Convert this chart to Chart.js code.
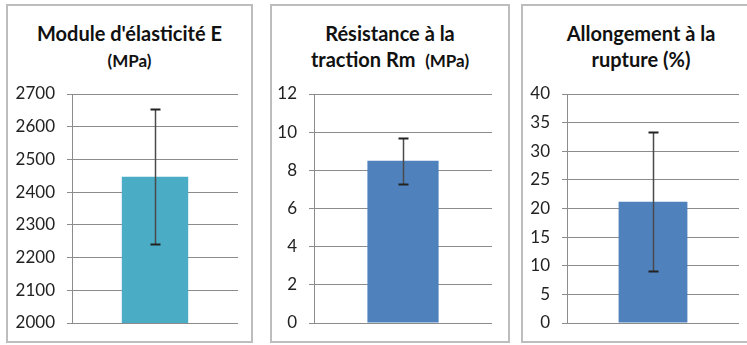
<!DOCTYPE html>
<html lang="fr">
<head>
<meta charset="UTF-8">
<title>Propriétés mécaniques</title>
<style>
  body {
    margin: 0;
    width: 747px;
    height: 345px;
    overflow: hidden;
    position: relative;
    background: #fff;
    font-family: Lato, "Open Sans", sans-serif;
  }
  .panel {
    position: absolute;
    top: 4px;
    height: 339px;
    box-sizing: border-box;
    border: 2px solid #bdbdbd;
  }
  .title {
    position: absolute;
    top: 20px;
    text-align: center;
    font-weight: bold;
    font-size: 20px;
    line-height: 26px;
    color: #111;
  }
  .unit { font-size: 17px; }
  canvas { position: absolute; top: 80px; }
</style>
</head>
<body>
  <div class="panel" style="left:6px; width:247px;"></div>
  <div class="panel" style="left:270px; width:240px;"></div>
  <div class="panel" style="left:521px; width:240px;"></div>

  <div class="title" style="left:6px; width:247px;">Module d'élasticité E<br><span class="unit">(MPa)</span></div>
  <div class="title" style="left:270px; width:240px;">Résistance à la<br>traction Rm &nbsp;<span class="unit">(MPa)</span></div>
  <div class="title" style="left:521px; width:240px;">Allongement à la<br>rupture (%)</div>

  <canvas id="modulus" width="242" height="260" style="left:8px;"></canvas>
  <canvas id="strength" width="235" height="260" style="left:272px;"></canvas>
  <canvas id="elongation" width="224" height="260" style="left:523px;"></canvas>

  <script src="https://cdn.jsdelivr.net/npm/chart.js"></script>
  <script>
    // Mean values and standard deviations
    const categories = [""];
    const modulusValues = [2447];
    const modulusErrors = [207];
    const strengthValues = [8.5];
    const strengthErrors = [1.2];
    const elongationValues = [21.2];
    const elongationErrors = [12.1];

    // Draws a vertical bar with caps for each value +/- error
    const errorBars = {
      id: "errorBars",
      afterDatasetsDraw(chart) {
        const ctx = chart.ctx;
        const y = chart.scales.y;
        chart.data.datasets.forEach((ds, i) => {
          if (!ds.errors) return;
          chart.getDatasetMeta(i).data.forEach((bar, j) => {
            const x = Math.round(bar.x) + 0.5;
            const top = Math.round(y.getPixelForValue(ds.data[j] + ds.errors[j])) + 0.5;
            const bottom = Math.round(y.getPixelForValue(ds.data[j] - ds.errors[j])) + 0.5;
            ctx.save();
            ctx.strokeStyle = "#4a4a4a";
            ctx.lineWidth = 1.5;
            ctx.beginPath();
            ctx.moveTo(x, top);
            ctx.lineTo(x, bottom);
            ctx.stroke();
            ctx.strokeStyle = "#222";
            ctx.lineWidth = 2;
            ctx.beginPath();
            ctx.moveTo(x - 5, top);
            ctx.lineTo(x + 5, top);
            ctx.moveTo(x - 5, bottom);
            ctx.lineTo(x + 5, bottom);
            ctx.stroke();
            ctx.restore();
          });
        });
      }
    };

    function makeChart(id, values, errors, color, min, max, step, axisWidth, padRight) {
      return new Chart(document.getElementById(id), {
        type: "bar",
        data: {
          labels: categories,
          datasets: [{
            data: values,
            errors: errors,
            backgroundColor: color,
            borderWidth: 0,
            categoryPercentage: 1,
            barPercentage: 0.4
          }]
        },
        options: {
          responsive: false,
          animation: false,
          layout: { padding: { top: 14, bottom: 17, left: 0, right: padRight } },
          plugins: { legend: { display: false }, tooltip: { enabled: false } },
          scales: {
            x: { display: false },
            y: {
              min: min,
              max: max,
              // fixed axis width, no extra room for the end labels
              afterFit(scale) {
                scale.width = axisWidth;
                scale.paddingTop = 0;
                scale.paddingBottom = 0;
              },
              ticks: {
                stepSize: step,
                padding: 12,
                color: "#222",
                font: { family: "Lato", size: 17 },
                callback: (v) => String(v)
              },
              grid: { color: "#8c8c8c", lineWidth: 1, tickLength: 5 },
              border: { display: true, color: "#8c8c8c", width: 1 }
            }
          }
        },
        plugins: [errorBars]
      });
    }

    makeChart("modulus", modulusValues, modulusErrors, "#4BACC6", 2000, 2700, 100, 64, 12);
    makeChart("strength", strengthValues, strengthErrors, "#4F81BD", 0, 12, 2, 42, 15);
    makeChart("elongation", elongationValues, elongationErrors, "#4F81BD", 0, 40, 5, 44, 8);
  </script>
</body>
</html>
